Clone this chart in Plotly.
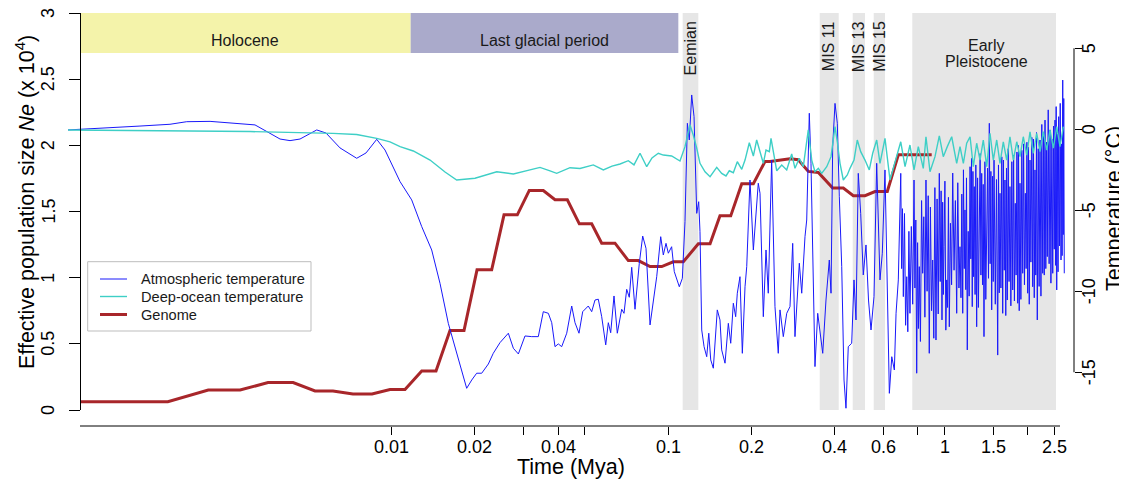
import math
import plotly.graph_objects as go

# ---------------- data (time in Mya) ----------------
atm_time = [0.000675, 0.000881, 0.001229, 0.001578, 0.001814, 0.002203, 0.002989, 0.003203, 0.00363, 0.003945,
            0.004288, 0.00466, 0.005356, 0.005786, 0.006501, 0.007471, 0.008074, 0.008827, 0.009458, 0.00986,
            0.01072, 0.01181, 0.01284, 0.01395, 0.01495, 0.01602, 0.01741, 0.01867, 0.01947, 0.02029,
            0.02116, 0.02236, 0.0233, 0.02464, 0.02641, 0.02754, 0.02871, 0.03034, 0.03209, 0.0339,
            0.03534, 0.03685, 0.03791, 0.03896, 0.04004, 0.04119, 0.04295, 0.04477, 0.04602, 0.04757,
            0.04906, 0.0514, 0.05288, 0.05436, 0.05587, 0.05747, 0.05943, 0.06073, 0.06194, 0.06368,
            0.06545, 0.06789, 0.0692, 0.07077, 0.07232, 0.07379, 0.07585, 0.07861, 0.08086, 0.08312,
            0.08596, 0.08834, 0.09087, 0.09395, 0.09601, 0.09818, 0.1001, 0.1029, 0.1052, 0.1097,
            0.1125, 0.115, 0.1173, 0.1192, 0.1216, 0.124, 0.1268, 0.1289, 0.1303, 0.1322,
            0.1348, 0.1378, 0.1402, 0.1425, 0.1456, 0.1505, 0.1539, 0.1561, 0.1605, 0.165,
            0.1683, 0.172, 0.1754, 0.1778, 0.1818, 0.1854, 0.1896, 0.1923, 0.1976, 0.2032,
            0.2089, 0.2117, 0.2148, 0.2208, 0.2258, 0.2301, 0.2367, 0.2433, 0.2501, 0.2537,
            0.2608, 0.2683, 0.2757, 0.282, 0.2874, 0.298, 0.304, 0.3124, 0.3169, 0.3238,
            0.3284, 0.3348, 0.3395, 0.3473, 0.354, 0.3621, 0.3721, 0.3825, 0.388, 0.3934,
            0.4011, 0.4089, 0.4158, 0.4242, 0.4324, 0.4395, 0.448, 0.4609, 0.4699, 0.4777,
            0.4869, 0.4968, 0.5076, 0.5192, 0.5302, 0.5413, 0.555, 0.5676, 0.5834, 0.5947,
            0.6082, 0.620, 0.6307, 0.6435, 0.6575, 0.6669, 0.6796, 0.6935, 0.6985, 0.7035,
            0.7086, 0.7154, 0.7221, 0.7289, 0.7355, 0.7422, 0.7488, 0.7574, 0.7659, 0.7745,
            0.7803, 0.7862, 0.792, 0.7978, 0.8035, 0.8093, 0.8170, 0.8248, 0.8325, 0.8402,
            0.8479, 0.8556, 0.8636, 0.8715, 0.8795, 0.8879, 0.8963, 0.9047, 0.9131, 0.9215,
            0.9299, 0.9386, 0.9474,
            0.9561, 0.9633, 0.9705, 0.9777, 0.9832, 0.9887, 0.9942, 1.0018, 1.0094, 1.017,
            1.0243, 1.0317, 1.039, 1.049, 1.059, 1.069, 1.081, 1.093, 1.105, 1.115,
            1.126, 1.136, 1.145, 1.153, 1.162, 1.169, 1.177, 1.184, 1.192, 1.199,
            1.207, 1.216, 1.226, 1.235, 1.243, 1.250, 1.258, 1.265, 1.272, 1.279,
            1.288, 1.296, 1.305, 1.315, 1.324, 1.334, 1.343, 1.352, 1.361, 1.370,
            1.378, 1.387, 1.398, 1.408, 1.419, 1.429, 1.440, 1.45, 1.460, 1.469,
            1.479, 1.489, 1.498, 1.508, 1.524, 1.539, 1.555, 1.565, 1.575, 1.585,
            1.597, 1.609, 1.621, 1.631, 1.642, 1.652, 1.663, 1.673, 1.684, 1.697,
            1.709, 1.722, 1.735, 1.749, 1.762, 1.775, 1.787, 1.80, 1.812, 1.825,
            1.837, 1.849, 1.860, 1.872, 1.886, 1.901, 1.915, 1.929, 1.943, 1.957,
            1.970, 1.983, 1.996, 2.009, 2.022, 2.035, 2.050, 2.066, 2.081, 2.094,
            2.108, 2.121, 2.135, 2.148, 2.162, 2.179, 2.195, 2.212, 2.229, 2.245,
            2.262, 2.277, 2.291, 2.306, 2.321, 2.335, 2.35, 2.368, 2.386, 2.404,
            2.422, 2.441, 2.459, 2.475, 2.490, 2.506, 2.518, 2.530, 2.542, 2.556,
            2.570, 2.584, 2.601, 2.617, 2.634, 2.647, 2.659, 2.672, 2.684, 2.695,
            2.707]
atm_temp = [-0.04, 0.05, 0.20, 0.31, 0.47, 0.49, 0.33, 0.27, -0.25, -0.60,
            -0.70, -0.60, -0.04, -0.23, -1.15, -1.79, -1.46, -0.62, -1.28, -1.90,
            -3.23, -4.36, -6.01, -7.45, -9.51, -11.98, -14.24, -15.99, -15.48, -15.06,
            -15.06, -14.49, -13.83, -13.17, -12.59, -13.52, -13.87, -12.76, -12.80, -12.80,
            -11.26, -11.36, -11.94, -13.42, -13.25, -13.42, -12.59, -10.91, -11.94, -12.59,
            -11.26, -10.91, -11.26, -10.54, -10.49, -11.57, -13.31, -11.94, -12.56, -10.29,
            -12.59, -11.11, -11.36, -9.88, -10.37, -8.52, -11.11, -8.27, -6.59, -7.35,
            -12.08, -10.74, -9.10, -6.63, -7.76, -7.04, -7.65, -7.25, -8.79, -9.72,
            -9.20, -5.70, 0.37, -0.66, 2.12, 0.78, -5.19, -4.47, -6.32, -12.39,
            -13.42, -14.04, -12.59, -14.24, -14.75, -11.15, -11.77, -13.62, -14.44, -11.98,
            -13.21, -10.74, -11.57, -10.12, -9.10, -13.83, -9.72, -8.48, -3.13, -7.45,
            -4.98, -3.33, -3.95, -11.57, -7.45, -10.12, -1.90, -10.95, -13.83, -11.15,
            -12.80, -11.36, -10.95, -7.04, -12.80, -8.27, -10.12, -6.63, -5.60, 0.99,
            -2.10, -8.89, -14.65, -11.36, -12.59, -13.83, -10.54, -8.07, -10.12, -1.07,
            1.60, 0.37, -4.16, -8.48, -15.48, -17.22, -13.42, -13.21, -9.30, -11.77,
            -2.72, -5.19, -8.99, -7.14, -10.54, -12.39, -10.33, -2.10, -9.30, -7.65,
            -2.51, -9.72, -16.30, -14.04, -14.86, -11.36, -9.30, -2.72, -8.6, -4.9,
            -10.33, -5.2, -12.1, -9.10, -12.5, -6.3, -11.36, -6.0, -10.8, -3.13,
            -9.8, -5.6, -15.06, -7.0, -12.3, -8.48, -13.1, -4.4, -8.89, -5.4,
            -11.6, -3.13, -10.0, -4.1, -13.83, -4.8, -11.2, -8.07, -12.9, -3.6,
            -13.01, -4.3, -11.4,
            -2.72, -9.4, -3.8, -11.77, -4.5, -10.2, -7.25, -3.2, -12.4, -9.30,
            -11.0, -4.2, -12.19, -5.8, -9.6, -2.70, -8.7, -4.4, -11.36, -3.3,
            -9.8, -7.25, -10.4, -4.0, -11.36, -2.5, -8.6, -4.98, -9.9, -3.0,
            -13.62, -6.3, -10.3, -2.31, -8.0, -1.8, -10.95, -2.6, -9.1, -3.54,
            -10.2, -2.2, -12.19, -3.0, -11.0, -6.42, -1.5, -9.0, -2.72, -9.6,
            -3.4, -12.80, -2.0, -10.5, -7.25, -2.4, -9.2, 0.37, -8.3, -2.6,
            -11.15, -2.9, -9.4, -1.90, -10.8, -3.1, -13.94, -2.2, -10.1, -3.95,
            -9.8, -1.7, -11.36, -1.9, -8.7, -3.13, -11.5, -2.4, -10.54, -1.2,
            -9.4, -3.54, -10.9, -2.0, -9.92, -1.6, -10.6, -4.57, -9.0, -1.4,
            -10.74, -1.0, -11.2, -3.33, -10.5, -1.3, -8.89, -0.9, -9.6, -3.95,
            -8.6, -0.8, -10.12, -1.1, -10.8, -1.90, -8.2, -0.5, -9.72, -0.6,
            -10.4, -2.51, -9.0, -0.2, -11.77, -1.2, -9.7, -0.66, -10.3, 0.3,
            -8.89, -0.2, -9.0, 0.57, -8.6, -0.8, -7.86, 1.2, -8.3, -0.04,
            -9.5, -0.6, -8.89, 0.2, -7.4, 0.57, -8.4, 1.4, -9.92, -0.3,
            -8.8, 0.78, -7.2, 1.6, -8.07, -0.9, -7.8, 3.04, -6.5, 1.9,
            -8.89]

ocean_time = [0.000675, 0.001336, 0.003073, 0.00613, 0.007471, 0.008827, 0.00986, 0.01072, 0.01197, 0.01376,
              0.01559, 0.01718, 0.02001, 0.02398, 0.02754, 0.03111, 0.03438, 0.03737, 0.03951, 0.04414,
              0.04797, 0.05359, 0.05826, 0.06262, 0.06696, 0.07173, 0.07521, 0.07907, 0.0836, 0.08738,
              0.09209, 0.09601, 0.1029, 0.1103, 0.115, 0.1199, 0.1232, 0.1268, 0.1303, 0.1359,
              0.1417, 0.1498, 0.1561, 0.1618, 0.1663, 0.172, 0.1778, 0.1845, 0.1896, 0.1965,
              0.2032, 0.2089, 0.2148, 0.2208, 0.2258, 0.2321, 0.2354, 0.2399, 0.2469, 0.2574,
              0.2683, 0.2797, 0.2874, 0.298, 0.308, 0.3211, 0.3304, 0.3395, 0.3491, 0.3591,
              0.3744, 0.388, 0.4011, 0.4089, 0.4182, 0.4298, 0.4443, 0.4544, 0.4699, 0.4829,
              0.4968, 0.5149, 0.5337, 0.5491, 0.5676, 0.5834, 0.6082, 0.6341, 0.661, 0.6935,
              0.7187, 0.7488, 0.7745, 0.8027, 0.8367, 0.8556, 0.8847, 0.9224, 0.9561, 0.9883,
              1.022, 1.06, 1.105, 1.136, 1.168, 1.201, 1.235, 1.269, 1.305, 1.342,
              1.379, 1.419, 1.458, 1.499, 1.542, 1.585, 1.629, 1.676, 1.722, 1.771,
              1.822, 1.872, 1.924, 1.98, 2.035, 2.091, 2.151, 2.212, 2.273, 2.338,
              2.404, 2.471, 2.542, 2.612, 2.685]
ocean_temp = [-0.04, -0.07, -0.14, -0.25, -0.32, -0.56, -0.78, -1.07, -1.34, -1.90,
              -2.64, -3.13, -3.02, -2.62, -2.76, -2.54, -2.35, -2.57, -2.72, -2.37,
              -2.42, -2.20, -2.51, -2.27, -2.14, -1.94, -2.20, -1.48, -2.31, -1.77,
              -1.48, -1.59, -1.65, -1.96, -1.07, 0.27, -0.35, -1.17, -2.10, -2.62,
              -2.93, -2.35, -2.72, -2.88, -2.56, -2.68, -2.00, -2.47, -1.90, -0.83,
              -1.65, -0.66, -1.38, -2.10, -1.28, -1.38, -0.56, -1.38, -2.56, -2.20,
              -2.51, -1.52, -2.41, -1.79, -2.31, -0.04, -1.90, -2.62, -2.41, -2.72,
              -2.31, -1.69, 0.16, -0.77, -2.10, -3.13, -2.82, -2.41, -1.90, -0.66,
              -1.38, -1.90, -2.51, -1.48, -0.66, -2.10, -0.56, -3.13, -2.10, -0.77,
              -2.31, -0.97, -2.51, -1.07, -2.41, -0.46, -2.62, -1.69, -0.41, -1.69,
              -1.07, -0.46, -2.10, -1.07, -2.10, -0.86, -0.46, -2.31, -0.86, -1.90,
              -0.66, -2.31, -0.25, -1.90, -0.66, -2.10, -0.77, -1.90, -0.46, -1.90,
              -0.77, -1.69, -0.46, -1.59, -0.15, -1.48, -0.25, -1.38, -0.15, -1.28,
              -0.04, -1.17, 0.16, -1.07, 0.16]

genome_time = [0.000752, 0.00155, 0.00217, 0.00283, 0.00357, 0.00440, 0.00528, 0.00613, 0.00724, 0.00849,
               0.00986, 0.01117, 0.01284, 0.01446, 0.01625, 0.01826, 0.02035, 0.02299, 0.02548, 0.02846,
               0.03145, 0.03534, 0.03896, 0.04317, 0.0477, 0.05288, 0.05747, 0.0642, 0.07173, 0.07797,
               0.08596, 0.09474, 0.1043, 0.1134, 0.1285, 0.1417, 0.1539, 0.1683, 0.1845, 0.2032,
               0.2239, 0.2335, 0.2757, 0.2954, 0.3211, 0.3491, 0.3934, 0.4298, 0.4671, 0.5149,
               0.5597, 0.620, 0.6796, 0.8974]
genome_ne = [0.063, 0.063, 0.151, 0.151, 0.207, 0.207, 0.144, 0.144, 0.121, 0.121,
             0.155, 0.155, 0.295, 0.295, 0.600, 0.600, 1.059, 1.059, 1.475, 1.475,
             1.659, 1.659, 1.589, 1.589, 1.407, 1.407, 1.261, 1.261, 1.129, 1.129,
             1.084, 1.084, 1.12, 1.12, 1.256, 1.256, 1.467, 1.467, 1.710, 1.710,
             1.878, 1.878, 1.899, 1.891, 1.803, 1.795, 1.677, 1.677, 1.619, 1.619,
             1.651, 1.651, 1.929, 1.929]

band_labels = ["Holocene", "Last glacial period", "Eemian", "MIS 11", "MIS 13", "MIS 15", "Early Pleistocene"]
band_start = [0.000746, 0.01171, 0.1128, 0.3531, 0.4648, 0.5536, 0.7635]
band_end = [0.01171, 0.1088, 0.1285, 0.4137, 0.5149, 0.6082, 2.527]
band_colors = ["#F4F3AA", "#AAAACB", "#E6E6E6", "#E6E6E6", "#E6E6E6", "#E6E6E6", "#E6E6E6"]

x_tickvals = [0.01, 0.02, 0.03, 0.04, 0.05, 0.1, 0.2, 0.4, 0.6, 0.8, 1, 1.5, 2, 2.5]
x_ticktext = ["0.01", "0.02", "", "0.04", "", "0.1", "0.2", "0.4", "0.6", "", "1", "1.5", "", "2.5"]
y1_tickvals = [0, 0.5, 1, 1.5, 2, 2.5, 3]
y1_ticktext = ["0", "0.5", "1", "1.5", "2", "2.5", "3"]
y2_tickvals = [-15, -10, -5, 0, 5]
y2_ticktext = ["-15", "-10", "-5", "0", "5"]

series_names = ["Atmospheric temperature", "Deep-ocean temperature", "Genome"]
series_colors = ["rgb(25,25,250)", "#3ECFC6", "#A8262A"]
series_widths = [1, 1.4, 3]

# ---------------- layout geometry ----------------
# the page body has an 8px margin, so the figure is drawn 8px smaller and
# reference pixel positions are shifted by that offset
OFF = 8
W, H = 1127 - OFF, 479 - OFF
ML, MR, MT, MB = 58, 53, 5, 53
PW = W - ML - MR
PH = H - MT - MB
XDOM = [0, 1000 / PW]
YDOM = [16 / PH, 1]
XR = [-3.178, 0.4387]
Y1R = [0, 3]
Y2R = [-17.33, 7.18]
FONT = "Liberation Sans, Arial, Helvetica, sans-serif"


def xp(p):  # reference pixel x -> paper x
    return (p - OFF - ML) / PW


def yp(p):  # reference pixel y -> paper y
    return (H - MB - (p - OFF)) / PH


def lg(v):
    return math.log10(v)


def y2_paper(v):
    return YDOM[0] + (v - Y2R[0]) / (Y2R[1] - Y2R[0]) * (YDOM[1] - YDOM[0])


fig = go.Figure()
fig.add_trace(go.Scatter(x=atm_time, y=atm_temp, yaxis="y2", mode="lines", name=series_names[0],
                         line=dict(color=series_colors[0], width=series_widths[0])))
fig.add_trace(go.Scatter(x=ocean_time, y=ocean_temp, yaxis="y2", mode="lines", name=series_names[1],
                         line=dict(color=series_colors[1], width=series_widths[1])))
fig.add_trace(go.Scatter(x=genome_time, y=genome_ne, yaxis="y", mode="lines", name=series_names[2],
                         line=dict(color=series_colors[2], width=series_widths[2])))

shapes = []
for i, lab in enumerate(band_labels):
    y0 = 2.697 if i < 2 else 0
    shapes.append(dict(type="rect", xref="x", yref="y", x0=band_start[i], x1=band_end[i],
                       y0=y0, y1=3, fillcolor=band_colors[i], line=dict(width=0), layer="below"))
# bottom axis line
shapes.append(dict(type="line", xref="paper", yref="paper", x0=xp(80), x1=xp(1060),
                   y0=0, y1=0, line=dict(color="black", width=1)))
# right axis line (-15 .. 5)
shapes.append(dict(type="line", xref="paper", yref="paper", x0=1, x1=1,
                   y0=y2_paper(-15), y1=y2_paper(5), line=dict(color="black", width=1)))

# legend box
shapes.append(dict(type="rect", xref="paper", yref="paper", x0=xp(87.7), x1=xp(311),
                   y0=yp(331), y1=yp(261.7), fillcolor="white",
                   line=dict(color="#BDBDBD", width=1), layer="above"))
legend_rows = [279, 296.5, 314.5]

ann = []
legfont = dict(family=FONT, size=14.6, color="#1a1a1a")
for i, name in enumerate(series_names):
    shapes.append(dict(type="line", xref="paper", yref="paper", x0=xp(100), x1=xp(127),
                       y0=yp(legend_rows[i]), y1=yp(legend_rows[i]),
                       line=dict(color=series_colors[i], width=series_widths[i]), layer="above"))
    ann.append(dict(x=xp(139), y=yp(legend_rows[i]), xref="paper", yref="paper", text=name,
                    showarrow=False, font=legfont, xanchor="left", yanchor="middle"))

txtfont = dict(family=FONT, size=16, color="#1a1a1a")
for i in (0, 1):
    ann.append(dict(x=(lg(band_start[i]) + lg(band_end[i])) / 2, y=2.79, xref="x", yref="y",
                    text=band_labels[i], showarrow=False, font=txtfont, xanchor="center", yanchor="middle"))
for i in (2, 3, 4, 5):
    ann.append(dict(x=(lg(band_start[i]) + lg(band_end[i])) / 2, y=2.955, xref="x", yref="y",
                    text=band_labels[i], showarrow=False, font=txtfont, textangle=-90,
                    xanchor="center", yanchor="top"))
ep_x = (lg(band_start[6]) + lg(band_end[6])) / 2 + 0.008
ep_words = band_labels[6].split(" ")
ann.append(dict(x=ep_x, y=2.757, xref="x", yref="y", text=ep_words[0], showarrow=False,
                font=txtfont, xanchor="center", yanchor="middle"))
ann.append(dict(x=ep_x, y=2.632, xref="x", yref="y", text=ep_words[1], showarrow=False,
                font=txtfont, xanchor="center", yanchor="middle"))

# tick labels
tickfont = dict(family=FONT, size=18, color="black")
for v, t in zip(x_tickvals, x_ticktext):
    if t:
        ann.append(dict(x=lg(v), y=yp(446.5), xref="x", yref="paper", text=t, showarrow=False,
                        font=tickfont, xanchor="center", yanchor="middle"))
for v, t in zip(y1_tickvals, y1_ticktext):
    ann.append(dict(x=xp(48), y=v, xref="paper", yref="y", text=t, showarrow=False,
                    font=tickfont, textangle=-90, xanchor="center", yanchor="middle"))
for v, t in zip(y2_tickvals, y2_ticktext):
    ann.append(dict(x=xp(1089), y=v, xref="paper", yref="y2", text=t, showarrow=False,
                    font=tickfont, textangle=-90, xanchor="center", yanchor="middle"))

# axis titles
titlefont = dict(family=FONT, size=21.5, color="black")
ann.append(dict(x=xp(25), y=yp(202), xref="paper", yref="paper",
                text="Effective population size <i>Ne</i> (x 10<sup>4</sup>)", showarrow=False,
                textangle=-90, font=titlefont, xanchor="center", yanchor="middle"))
ann.append(dict(x=xp(1114), y=yp(209), xref="paper", yref="paper",
                text="Temperature (°C)", showarrow=False,
                textangle=-90, font=titlefont, xanchor="center", yanchor="middle"))
ann.append(dict(x=xp(571), y=yp(467), xref="paper", yref="paper",
                text="Time (Mya)", showarrow=False, font=titlefont,
                xanchor="center", yanchor="middle"))

fig.update_layout(
    width=W, height=H,
    margin=dict(l=ML, r=MR, t=MT, b=MB, pad=0, autoexpand=False),
    paper_bgcolor="white", plot_bgcolor="white",
    font=dict(family=FONT, size=18, color="black"),
    showlegend=False,
    xaxis=dict(type="log", range=XR, domain=XDOM, anchor="free", position=0, automargin=False,
               showgrid=False, zeroline=False, showline=False, showticklabels=False,
               ticks="outside", ticklen=8, tickwidth=1, tickcolor="black",
               tickmode="array", tickvals=x_tickvals),
    yaxis=dict(range=Y1R, domain=YDOM, anchor="free", position=xp(80), automargin=False,
               showgrid=False, zeroline=False, showline=True, linecolor="black", linewidth=1,
               showticklabels=False, ticks="outside", ticklen=11, tickwidth=1, tickcolor="black",
               tickmode="array", tickvals=y1_tickvals),
    yaxis2=dict(range=Y2R, domain=YDOM, overlaying="y", side="right", anchor="free", position=1,
                automargin=False, showgrid=False, zeroline=False, showline=False,
                showticklabels=False, ticks="outside", ticklen=7, tickwidth=1, tickcolor="black",
                tickmode="array", tickvals=y2_tickvals),
    shapes=shapes,
    annotations=ann,
)

fig.write_html("out.html")
